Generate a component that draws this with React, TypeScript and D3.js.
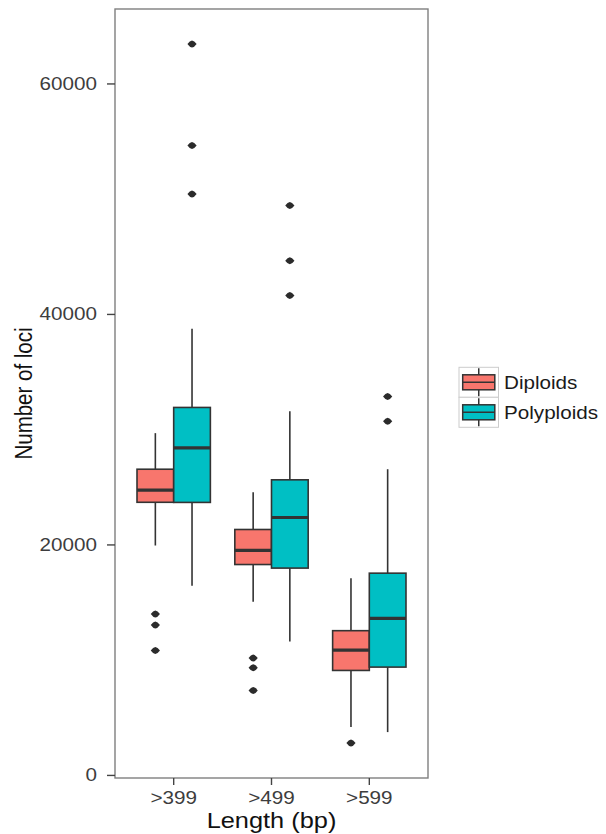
import React from "react";
import * as d3 from "d3";

const categories = [">399", ">499", ">599"];
const groups = ["Diploids", "Polyploids"];
const groupColors = ["#F8766D", "#00BFC4"];

// [whiskerLow, Q1, median, Q3, whiskerHigh]
const diploidStats = [
  [19950, 23700, 24750, 26570, 29700],
  [15070, 18300, 19520, 21340, 24580],
  [4200, 9110, 10870, 12560, 17120],
];
const polyploidStats = [
  [16460, 23690, 28430, 31930, 38750],
  [11630, 17990, 22380, 25650, 31600],
  [3760, 9400, 13620, 17550, 26570],
];
const diploidOutliers = [
  [14000, 13050, 10850],
  [10180, 9350, 7380],
  [2810],
];
const polyploidOutliers = [
  [63470, 54650, 50460],
  [49450, 44650, 41640],
  [32880, 30740],
];
const yTicks = [0, 20000, 40000, 60000];

const W = 606;
const H = 834;
const panel = { left: 115, right: 428, top: 9, bottom: 778 };
const SX = 1.18;

export default function App() {
  const statsBy = [diploidStats, polyploidStats];
  const outBy = [diploidOutliers, polyploidOutliers];
  const allVals: number[] = [];
  statsBy.forEach((s) => s.forEach((r) => allVals.push(...r)));
  outBy.forEach((s) => s.forEach((r) => allVals.push(...r)));
  const [mn, mx] = d3.extent(allVals) as [number, number];
  const pad = (mx - mn) * 0.05;
  const y = d3.scaleLinear().domain([mn - pad, mx + pad]).range([panel.bottom, panel.top]);
  const x = d3.scalePoint<string>().domain(categories).range([panel.left, panel.right]).padding(0.6);
  const step = x.step();
  const boxW = (0.75 * step) / 2;
  const outline = "#333333";

  const boxes: React.ReactNode[] = [];
  categories.forEach((c, ci) => {
    groups.forEach((g, gi) => {
      const s = statsBy[gi][ci];
      const cx = (x(c) as number) + (gi === 0 ? -boxW / 2 : boxW / 2);
      const x0 = cx - boxW / 2;
      boxes.push(
        <g key={`${c}-${g}`}>
          <line x1={cx} x2={cx} y1={y(s[3])} y2={y(s[4])} stroke={outline} strokeWidth={1.6} />
          <line x1={cx} x2={cx} y1={y(s[1])} y2={y(s[0])} stroke={outline} strokeWidth={1.6} />
          <rect x={x0} y={y(s[3])} width={boxW} height={y(s[1]) - y(s[3])} fill={groupColors[gi]} stroke={outline} strokeWidth={1.6} />
          <line x1={x0} x2={x0 + boxW} y1={y(s[2])} y2={y(s[2])} stroke={outline} strokeWidth={3.2} />
          {outBy[gi][ci].map((v, k) => (
            <path key={k} transform={`translate(${cx},${y(v)})`} d="M-4.6,0 Q-2.2,-3.4 0,-3.5 Q2.2,-3.4 4.6,0 Q2.2,3.4 0,3.5 Q-2.2,3.4 -4.6,0 Z" fill="#2b2b2b" />
          ))}
        </g>
      );
    });
  });

  const legendKeys = [367.3, 397.3];
  const keyX = 459;
  const keyW = 39.5;
  const keyH = 30;

  return (
    <svg width={W} height={H} style={{ position: "absolute", left: 0, top: 0, background: "#fff" }} fontFamily="'Liberation Sans', Arial, sans-serif">
      <rect x={0} y={0} width={W} height={H} fill="#fff" />
      <rect x={panel.left} y={panel.top} width={panel.right - panel.left} height={panel.bottom - panel.top} fill="#fff" />
      {boxes}
      <rect x={panel.left} y={panel.top} width={panel.right - panel.left} height={panel.bottom - panel.top} fill="none" stroke="#7f7f7f" strokeWidth={1.4} />
      {yTicks.map((t) => (
        <g key={t}>
          <line x1={panel.left - 8} x2={panel.left} y1={y(t)} y2={y(t)} stroke="#444" strokeWidth={1.4} />
          <text transform={`translate(97,${y(t) + 6}) scale(${SX},1)`} textAnchor="end" fontSize={17.5} fill="#3d3d3d">
            {t}
          </text>
        </g>
      ))}
      {categories.map((c) => (
        <g key={c}>
          <line x1={x(c)} x2={x(c)} y1={panel.bottom} y2={panel.bottom + 7} stroke="#444" strokeWidth={1.4} />
          <text transform={`translate(${x(c)},804) scale(${SX},1)`} textAnchor="middle" fontSize={17.5} fill="#3d3d3d">
            {c}
          </text>
        </g>
      ))}
      <text transform={`translate(${(panel.left + panel.right) / 2},828) scale(${SX},1)`} textAnchor="middle" fontSize={21.5} fill="#111">
        Length (bp)
      </text>
      <text transform={`translate(32,${(panel.top + panel.bottom) / 2}) scale(${SX},1) rotate(-90)`} textAnchor="middle" fontSize={20.5} fill="#111">
        Number of loci
      </text>
      {groups.map((g, gi) => {
        const ky = legendKeys[gi];
        const cy = ky + keyH / 2;
        const cx = keyX + keyW / 2;
        return (
          <g key={g}>
            <rect x={keyX} y={ky} width={keyW} height={keyH} fill="#fff" stroke="#cccccc" strokeWidth={1} />
            <line x1={cx} x2={cx} y1={ky + 1} y2={ky + keyH - 1} stroke={outline} strokeWidth={1.5} />
            <rect x={keyX + 3.7} y={cy - 7.5} width={keyW - 7.4} height={15} fill={groupColors[gi]} stroke={outline} strokeWidth={1.5} />
            <line x1={keyX + 3.7} x2={keyX + keyW - 3.7} y1={cy} y2={cy} stroke={outline} strokeWidth={1.6} />
            <text transform={`translate(504,${cy + 6.3}) scale(${SX},1)`} fontSize={17.5} fill="#1a1a1a">
              {g}
            </text>
          </g>
        );
      })}
    </svg>
  );
}
